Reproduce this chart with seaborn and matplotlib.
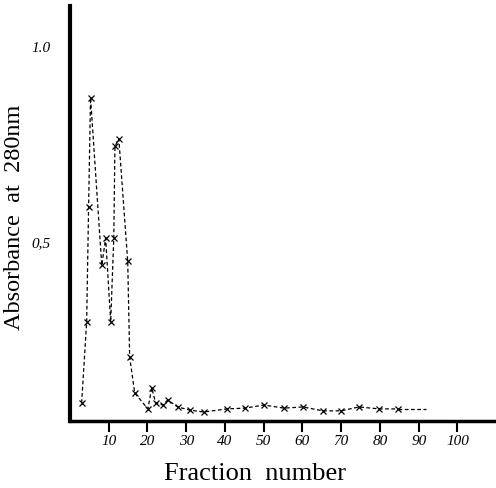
import matplotlib
matplotlib.use("Agg")
import matplotlib.pyplot as plt
import seaborn as sns
import pandas as pd

# Fraction numbers and absorbance values
fraction = [3.0, 4.3, 4.8, 5.3, 8.2, 9.2, 10.5, 11.3, 11.6, 12.6, 14.9, 15.4, 16.7,
            20.1, 21.1, 22.1, 24.0, 25.2, 27.8, 30.9, 34.5, 40.5, 45.1, 50.1, 55.2,
            60.1, 65.3, 69.9, 74.6, 79.8, 84.7]
absorbance = [0.087, 0.295, 0.59, 0.87, 0.44, 0.51, 0.295, 0.51, 0.745, 0.765, 0.45, 0.205, 0.113,
              0.072, 0.126, 0.087, 0.082, 0.095, 0.077, 0.069, 0.064, 0.072, 0.074, 0.082, 0.074,
              0.077, 0.067, 0.067, 0.077, 0.072, 0.072]
# unmarked dashed continuation after the last measured fraction
tail_fraction = [84.7, 92.0]
tail_absorbance = [0.072, 0.072]

xticks = [10, 20, 30, 40, 50, 60, 70, 80, 90, 100]
xtick_labels = ["10", "20", "30", "40", "50", "60", "70", "80", "90", "100"]
yticks = [0.5, 1.0]
ytick_labels = ["0,5", "1.0"]

sns.set_style("ticks")
plt.rcParams["font.family"] = ["Liberation Serif", "DejaVu Serif"]

fig = plt.figure(figsize=(4.96, 4.88), dpi=100)
ax = fig.add_axes([70 / 496, (488 - 421) / 488, (495 - 70) / 496, (421 - 6) / 488])

df = pd.DataFrame({"fraction": fraction, "absorbance": absorbance})
sns.lineplot(data=df, x="fraction", y="absorbance", ax=ax, sort=False,
             color="black", linestyle=(0, (3, 2)), linewidth=0.9,
             marker="x", markersize=4.5, markeredgewidth=0.9, markeredgecolor="black")
tail = pd.DataFrame({"fraction": tail_fraction, "absorbance": tail_absorbance})
sns.lineplot(data=tail, x="fraction", y="absorbance", ax=ax, sort=False,
             color="black", linestyle=(0, (3, 2)), linewidth=0.9)

ax.set_xlim(0, 109.7)
ax.set_ylim(0.041, 1.105)

ax.set_xticks(xticks)
ax.set_xticklabels(xtick_labels, fontstyle="italic", fontsize=11)
ax.set_yticks(yticks)
ax.set_yticklabels(ytick_labels, fontstyle="italic", fontsize=11)
ax.tick_params(axis="x", bottom=True, direction="out", length=8, width=1.5,
               pad=2, color="black", labelcolor="black")
ax.tick_params(axis="y", left=False, length=0, pad=14, labelcolor="black")

for side in ("top", "right"):
    ax.spines[side].set_visible(False)
ax.spines["left"].set_linewidth(3)
ax.spines["bottom"].set_linewidth(2.5)
ax.spines["left"].set_color("black")
ax.spines["bottom"].set_color("black")

ax.set_xlabel("Fraction  number", fontsize=19, color="black")
ax.xaxis.set_label_coords((255 - 70) / 425, -0.10)
ax.set_ylabel("Absorbance  at  280nm", fontsize=17.5, color="black")
ax.yaxis.set_label_coords(-0.105, 0.49)

fig.savefig("out.png", dpi=100, facecolor="white")
